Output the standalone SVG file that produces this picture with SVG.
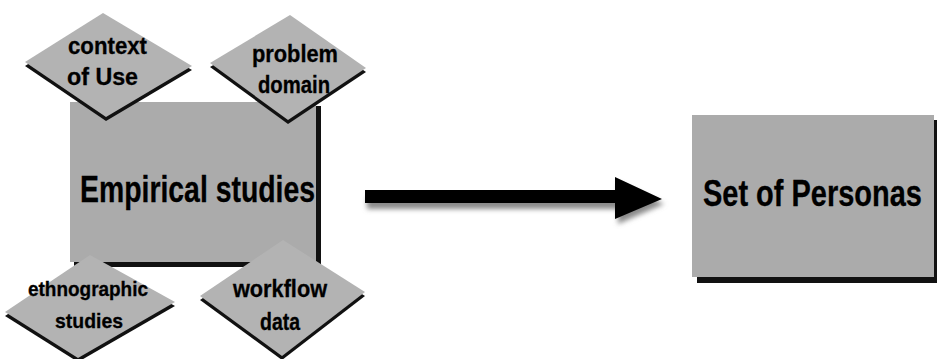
<svg xmlns="http://www.w3.org/2000/svg" width="937" height="359" viewBox="0 0 937 359">
<defs>
<style>
.box{fill:#ababab;}
.dia{fill:#b3b3b3;}
.shd{fill:#111;}
.lbl{font-family:"Liberation Sans",Arial,sans-serif;font-weight:bold;fill:#000;stroke:#000;stroke-width:0.3;}
.big{font-size:36px;}
.sm{font-size:23px;}
.xs{font-size:21px;}
</style>
<filter id="blur" x="-10%" y="-50%" width="120%" height="200%"><feGaussianBlur stdDeviation="2.5"/></filter>
</defs>
<rect width="937" height="359" fill="#fff"/>

<g id="empirical-studies">
<rect class="shd" x="74" y="106" width="247" height="161"/>
<rect class="box" x="70" y="102" width="246" height="160"/>
<text class="lbl big" x="80" y="202" textLength="235" lengthAdjust="spacingAndGlyphs">Empirical studies</text>
</g>

<g id="context-of-use">
<polygon class="shd" points="103,17 192,70 106,121 25,66"/>
<polygon class="dia" points="103,13 192,66 106,117 25,62"/>
<text class="lbl sm" x="68" y="54" textLength="79" lengthAdjust="spacingAndGlyphs">context</text>
<text class="lbl sm" x="67" y="85" textLength="71" lengthAdjust="spacingAndGlyphs">of Use</text>
</g>

<g id="problem-domain">
<polygon class="shd" points="290,19 366,72 288,124 210,67"/>
<polygon class="dia" points="290,15 366,68 288,120 210,63"/>
<text class="lbl sm" x="252" y="62" textLength="86" lengthAdjust="spacingAndGlyphs">problem</text>
<text class="lbl sm" x="258" y="93" textLength="72" lengthAdjust="spacingAndGlyphs">domain</text>
</g>

<g id="ethnographic-studies">
<polygon class="shd" points="90,259 175,306 78,362 5,316"/>
<polygon class="dia" points="90,255 175,302 78,358 5,312"/>
<text class="lbl xs" x="28" y="296" textLength="120" lengthAdjust="spacingAndGlyphs">ethnographic</text>
<text class="lbl xs" x="55" y="328" textLength="68" lengthAdjust="spacingAndGlyphs">studies</text>
</g>

<g id="workflow-data">
<polygon class="shd" points="283,244 365,296 282,360 200,300"/>
<polygon class="dia" points="283,240 365,292 282,356 200,296"/>
<text class="lbl sm" x="233" y="297" textLength="94" lengthAdjust="spacingAndGlyphs">workflow</text>
<text class="lbl sm" x="260" y="330" textLength="40" lengthAdjust="spacingAndGlyphs">data</text>
</g>

<g id="set-of-personas">
<rect class="shd" x="697" y="120" width="240" height="163"/>
<rect class="box" x="692" y="115" width="242" height="162"/>
<text class="lbl" x="0" y="0" transform="translate(703,206) scale(0.783,1)" style="font-size:37px">Set of Personas</text>
</g>

<g id="connectors">
<path d="M367,197 H618 V183 L664,204 L618,224 V209 H367 Z" fill="#8a8a8a" filter="url(#blur)"/>
<path d="M365,190 H615 V177 L662,199 L615,219 V203 H365 Z" fill="#000"/>
</g>
</svg>
